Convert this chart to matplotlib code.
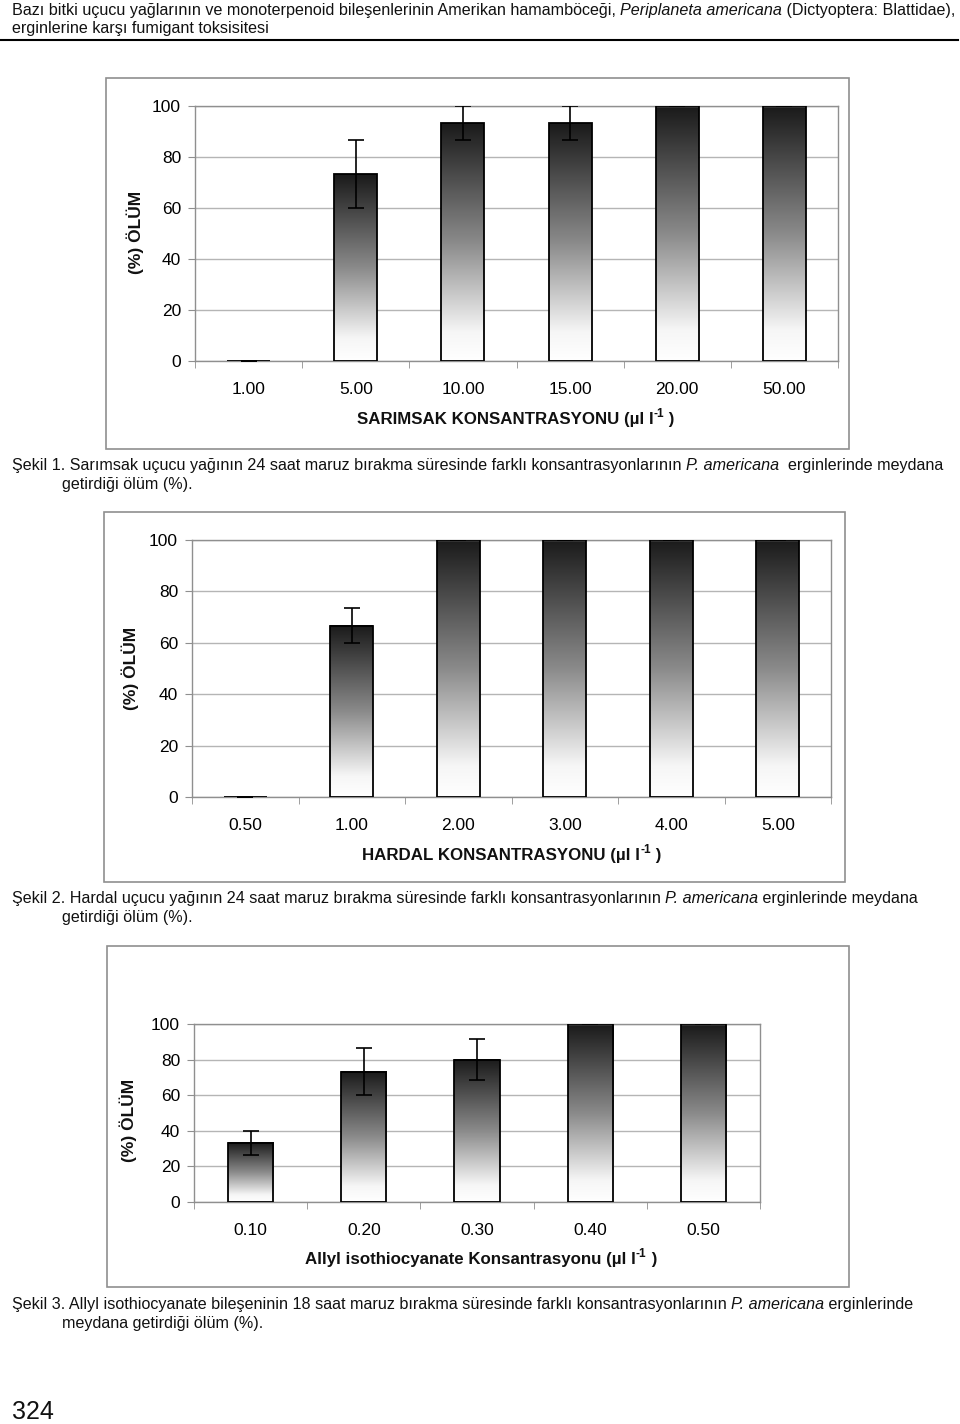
import matplotlib
matplotlib.use("Agg")
import matplotlib.pyplot as plt
import numpy as np
from matplotlib import font_manager
from matplotlib.colors import LinearSegmentedColormap
from matplotlib.patches import Rectangle
from matplotlib.lines import Line2D

# ---------------- data ----------------
sar_labels = ["1.00", "5.00", "10.00", "15.00", "20.00", "50.00"]
sar_values = [0, 73.3, 93.3, 93.3, 100, 100]
sar_errors = [0, 13.3, 6.7, 6.7, 0, 0]

har_labels = ["0.50", "1.00", "2.00", "3.00", "4.00", "5.00"]
har_values = [0, 66.7, 100, 100, 100, 100]
har_errors = [0, 6.7, 0, 0, 0, 0]

ait_labels = ["0.10", "0.20", "0.30", "0.40", "0.50"]
ait_values = [33.3, 73.3, 80, 100, 100]
ait_errors = [6.7, 13.3, 11.5, 0, 0]

y_ticks = [0, 20, 40, 60, 80, 100]

# ---------------- fonts ----------------
names = {f.name for f in font_manager.fontManager.ttflist}
if "Liberation Sans Narrow" in names:
    FAM = ["Liberation Sans Narrow", "Liberation Sans", "DejaVu Sans"]
    TXT = 13.2
else:
    FAM = ["Liberation Sans", "DejaVu Sans"]
    TXT = 11.6
plt.rcParams["font.family"] = FAM

W, H = 960, 1424
fig = plt.figure(figsize=(W / 100, H / 100), dpi=100)
fig.patch.set_facecolor("white")


def fx(x):
    return x / W


def fy(y):
    return 1 - y / H


def ax_rect(l, t, r, b):
    return [l / W, 1 - b / H, (r - l) / W, (b - t) / H]


cmap = LinearSegmentedColormap.from_list(
    "g", [(0, "#ffffff"), (0.12, "#f6f6f6"), (0.5, "#8a8a8a"), (1, "#1a1a1a")])
grad = np.linspace(0, 1, 256).reshape(-1, 1)

renderer = fig.canvas.get_renderer()


def seg_text(x, y, segs, size, center=False, weight="normal"):
    """segs: (text, style, size_factor, dy_px); y is the baseline in px"""
    items = []
    total = 0
    for seg in segs:
        s, style = seg[0], seg[1]
        sf = seg[2] if len(seg) > 2 else 1.0
        dy = seg[3] if len(seg) > 3 else 0
        t = fig.text(0, 0, s, fontsize=size * sf, style=style, fontweight=weight,
                     ha="left", va="baseline", color="#111111")
        w = t.get_window_extent(renderer=renderer).width
        items.append((t, w, dy))
        total += w
    cx = x - total / 2 if center else x
    for t, w, dy in items:
        t.set_position((fx(cx), fy(y - dy)))
        cx += w


def box(l, t, r, b):
    fig.patches.append(Rectangle((fx(l), fy(b)), fx(r - l), (b - t) / H,
                                 transform=fig.transFigure, fill=False,
                                 edgecolor="#8f8f8f", linewidth=1.2))


def chart(rect, labels, vals, errs, xlabel_main, xl_pos, yl_pos):
    ax = fig.add_axes(ax_rect(*rect))
    n = len(labels)
    x = np.arange(n)
    ax.set_axisbelow(True)
    ax.yaxis.grid(True, color="#b5b5b5", linewidth=1)
    bars = ax.bar(x, vals, width=0.4, facecolor="none", edgecolor="black",
                  linewidth=1.3, zorder=3)
    for p in bars:
        h = p.get_height()
        if h > 0:
            ax.imshow(grad, extent=[p.get_x(), p.get_x() + p.get_width(), 0, h],
                      origin="lower", cmap=cmap, vmin=0, vmax=1,
                      aspect="auto", zorder=2.5, interpolation="bilinear")
    ax.errorbar(x, vals, yerr=errs, fmt="none", ecolor="black",
                elinewidth=1.2, capsize=6, capthick=1.2, zorder=4)
    ax.set_xlim(-0.5, n - 0.5)
    ax.set_ylim(0, 100)
    ax.set_yticks(y_ticks)
    ax.set_xticks(x)
    ax.set_xticklabels(labels)
    ax.set_xticks(np.arange(n + 1) - 0.5, minor=True)
    ax.tick_params(axis="x", which="major", length=0, pad=15, labelsize=12.5)
    ax.tick_params(axis="x", which="minor", length=5, color="#8f8f8f", direction="out")
    ax.tick_params(axis="y", length=5, color="#8f8f8f", pad=5, labelsize=12.5)
    for s in ax.spines.values():
        s.set_color("#8f8f8f")
        s.set_linewidth(1)
    seg_text(xl_pos[0], xl_pos[1],
             [(xlabel_main + " (µl l", "normal"), ("-1", "normal", 0.7, 7), (" )", "normal")],
             12.2, center=True, weight="bold")
    fig.text(fx(yl_pos[0]), fy(yl_pos[1]), "(%) ÖLÜM", fontsize=12.5,
             fontweight="bold", ha="center", va="center", rotation=90,
             color="#111111")
    return ax


B = 5  # baseline offset from visual line centre

# ---------------- header ----------------
seg_text(12, 10 + B, [("Bazı bitki uçucu yağlarının ve monoterpenoid bileşenlerinin Amerikan hamamböceği, ", "normal"),
                      ("Periplaneta americana", "italic"),
                      (" (Dictyoptera: Blattidae),", "normal")], TXT)
seg_text(12, 28 + B, [("erginlerine karşı fumigant toksisitesi", "normal")], TXT)
fig.lines.append(Line2D([0, fx(958)], [fy(40), fy(40)], transform=fig.transFigure,
                        color="black", linewidth=1.5))

# ---------------- chart 1 ----------------
box(106, 78, 849, 449)
chart((195, 106, 838, 361), sar_labels, sar_values, sar_errors,
      "SARIMSAK KONSANTRASYONU", (516, 419 + B), (135, 232))
seg_text(12, 465 + B, [("Şekil 1. Sarımsak uçucu yağının 24 saat maruz bırakma süresinde farklı konsantrasyonlarının ", "normal"),
                       ("P. americana", "italic"),
                       ("  erginlerinde meydana", "normal")], TXT)
seg_text(62, 484 + B, [("getirdiği ölüm (%).", "normal")], TXT)

# ---------------- chart 2 ----------------
box(104, 512, 845, 882)
chart((192, 540, 831, 797), har_labels, har_values, har_errors,
      "HARDAL KONSANTRASYONU", (512, 855 + B), (130, 668))
seg_text(12, 898 + B, [("Şekil 2. Hardal uçucu yağının 24 saat maruz bırakma süresinde farklı konsantrasyonlarının ", "normal"),
                       ("P. americana", "italic"),
                       (" erginlerinde meydana", "normal")], TXT)
seg_text(62, 917 + B, [("getirdiği ölüm (%).", "normal")], TXT)

# ---------------- chart 3 ----------------
box(107, 946, 849, 1287)
chart((194, 1024, 760, 1202), ait_labels, ait_values, ait_errors,
      "Allyl isothiocyanate Konsantrasyonu", (481, 1259 + B), (128, 1120))
seg_text(12, 1304 + B, [("Şekil 3. Allyl isothiocyanate bileşeninin 18 saat maruz bırakma süresinde farklı konsantrasyonlarının ", "normal"),
                        ("P. americana", "italic"),
                        (" erginlerinde", "normal")], TXT)
seg_text(62, 1323 + B, [("meydana getirdiği ölüm (%).", "normal")], TXT)

fig.text(fx(12), fy(1412), "324", fontsize=18, ha="left", va="center", color="#111111")

fig.savefig("out.png", dpi=100)
